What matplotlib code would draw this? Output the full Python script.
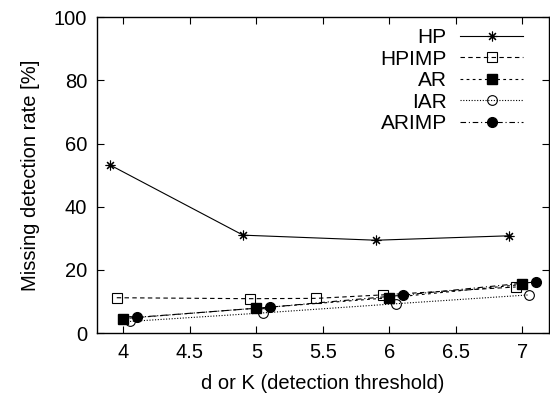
import matplotlib
matplotlib.use("Agg")
import matplotlib.pyplot as plt

plt.rcParams['font.family'] = ['Liberation Sans', 'DejaVu Sans']

hp_x = [3.9, 4.9, 5.9, 6.9]
hp_y = [53.2, 31.0, 29.4, 30.8]
hpimp_x = [3.95, 4.95, 5.45, 5.95, 6.95]
hpimp_y = [11.2, 10.9, 11.0, 12.1, 14.6]
ar_x = [4.0, 5.0, 6.0, 7.0]
ar_y = [4.6, 7.9, 11.2, 15.4]
iar_x = [4.05, 5.05, 6.05, 7.05]
iar_y = [3.7, 6.4, 9.3, 12.1]
arimp_x = [4.1, 5.1, 6.1, 7.1]
arimp_y = [5.0, 8.2, 12.0, 16.2]

x_ticks = [4, 4.5, 5, 5.5, 6, 6.5, 7]
y_ticks = [0, 20, 40, 60, 80, 100]

fig = plt.figure(figsize=(5.5, 3.98), dpi=100)
ax = fig.add_axes([0.176, 0.163, 0.822, 0.794])

lw = 0.8
ax.plot(hp_x, hp_y, color='black', lw=lw, ls='-', marker=(8, 2, 0), ms=7,
        mew=0.8, label='HP')
ax.plot(hpimp_x, hpimp_y, color='black', lw=lw, ls=(0, (4, 3)), marker='s',
        ms=7, mfc='none', mew=0.8, label='HPIMP')
ax.plot(ar_x, ar_y, color='black', lw=lw, ls=(0, (2.5, 3)), marker='s',
        ms=7, label='AR')
ax.plot(iar_x, iar_y, color='black', lw=lw, ls=(0, (1, 1.5)), marker='o',
        ms=7, mfc='none', mew=0.8, label='IAR')
ax.plot(arimp_x, arimp_y, color='black', lw=lw, ls=(0, (5, 2.5, 1, 2.5)), marker='o',
        ms=7, label='ARIMP')

ax.set_xlim(3.8, 7.2)
ax.set_ylim(0, 100)
ax.set_xticks(x_ticks)
ax.set_xticklabels(['4', '4.5', '5', '5.5', '6', '6.5', '7'])
ax.set_yticks(y_ticks)
ax.tick_params(direction='in', length=5, width=0.8, top=True, right=True,
               labelsize=14.5, pad=7, colors='black')
for s in ax.spines.values():
    s.set_linewidth(1.0)

ax.set_xlabel('d or K (detection threshold)', fontsize=14.5, labelpad=9)
ax.set_ylabel('Missing detection rate [%]', fontsize=14.5, labelpad=10)

leg = ax.legend(loc='upper right', bbox_to_anchor=(0.97, 1.005), frameon=False,
                markerfirst=False, fontsize=15, handlelength=3.0,
                labelspacing=0.12, handletextpad=0.65, borderpad=0.1,
                numpoints=1)

fig.savefig('out.png', dpi=100)
